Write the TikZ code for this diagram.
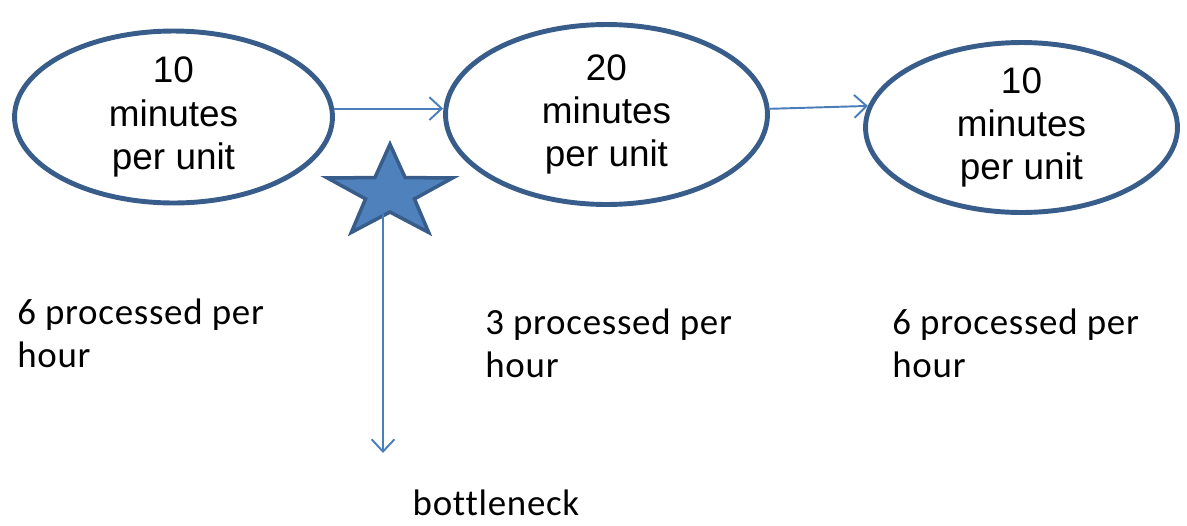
\documentclass[tikz,border=0pt]{standalone}
\usepackage{fontspec}
\setmainfont{Carlito}[Ligatures=NoCommon, LetterSpace=2]
\newfontfamily\boxfont{Liberation Sans}
\usetikzlibrary{shapes.geometric,arrows.meta}
\definecolor{rimblue}{HTML}{385D8A}
\definecolor{lineblue}{HTML}{4A7EBB}
\definecolor{starblue}{HTML}{4F81BD}
\tikzset{
  station/.style={ellipse, draw=rimblue, line width=2.8pt, inner sep=0pt,
    align=center, font=\boxfont\fontsize{21}{24.6}\selectfont},
  flow/.style={draw=lineblue, line width=1.1pt,
    -{Straight Barb[length=7pt,width=13pt]}},
  rate/.style={anchor=north west, inner sep=0pt, align=left,
    font=\fontsize{21}{24}\selectfont}
}
\begin{document}
\begin{tikzpicture}[x=0.02cm, y=-0.02cm]
    \useasboundingbox (0,0) rectangle (1187,525);
    % the three stations
    \node[station, minimum width=6.36cm, minimum height=3.44cm] (st1) at (173.5,117) {10\\minutes\\per unit};
    \node[station, minimum width=6.44cm, minimum height=3.6cm] (st2) at (606.5,114.5) {20\\minutes\\per unit};
    \node[station, minimum width=6.24cm, minimum height=3.4cm] (st3) at (1021.5,127.5) {10\\minutes\\per unit};
    \draw[flow] (st1.3) -- (st1.3 -| st2.west);
    \draw[flow] (st2.2) -- (st3.172);
    % rates
    \node[rate] (r1) at (17,299) {6 processed per\\hour};
    \node[rate] (r2) at (485,309) {3 processed per\\hour};
    \node[rate] (r3) at (892,309) {6 processed per\\hour};
    % bottleneck marker
    \node[star, star points=5, star point ratio=2.56, minimum size=1.95cm, inner sep=0pt,
      draw=rimblue, fill=starblue, line width=2pt, xscale=1.35, transform shape] (mark) at (390,193) {};
    \coordinate (tip) at (383,453);
    \draw[flow] ([xshift=-0.14cm]mark.south) -- (tip);
    \node[anchor=base, inner sep=0pt, font=\fontsize{21}{24}\selectfont] (neck) at (496,515) {bottleneck};
\end{tikzpicture}
\end{document}
